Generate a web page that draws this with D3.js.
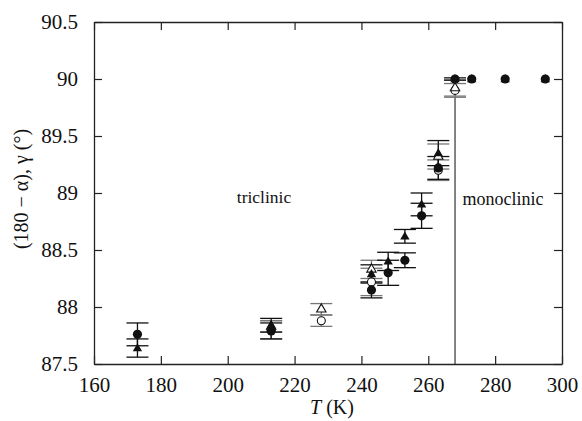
<!DOCTYPE html>
<html><head><meta charset="utf-8">
<script src="https://cdn.jsdelivr.net/npm/d3@7"></script>
</head><body style="margin:0"><svg id="c" width="582" height="421" font-family="Liberation Serif"></svg>
<script>
// Filled series (shared temperatures)
const tempsFilled = [173, 213, 243, 248, 253, 258, 263, 268, 273, 283, 295];
const filledCircle = [87.76, 87.79, 88.15, 88.30, 88.41, 88.80, 89.22, 90.00, 90.00, 90.00, 90.00];
const filledCircleErr = [0.10, 0.07, 0.07, 0.11, 0.065, 0.11, 0.10, 0.01, 0, 0, 0];
const filledTri = [87.64, 87.84, 88.29, 88.40, 88.62, 88.90, 89.35, 90.00, 90.00, 90.00, 90.00];
const filledTriErr = [0.08, 0.06, 0.08, 0.08, 0.06, 0.10, 0.11, 0, 0, 0, 0];
// Open series
const tempsOpen = [213, 228, 243, 263, 268];
const openCircle = [87.80, 87.88, 88.22, 89.20, 89.90];
const openCircleErr = [0.08, 0.05, 0.12, 0.09, 0.06];
const openTri = [87.83, 87.98, 88.33, 89.32, 89.92];
const openTriErr = [0.05, 0.05, 0.08, 0.11, 0.07];
const xTicks = [160, 180, 200, 220, 240, 260, 280, 300];
const yTicks = [87.5, 88, 88.5, 89, 89.5, 90, 90.5];
const transitionT = 268;

const svg = d3.select("#c");
const L = 94, R = 562, T = 22, B = 364;
const x = d3.scaleLinear().domain([160, 300]).range([L, R]);
const y = d3.scaleLinear().domain([87.5, 90.5]).range([B, T]);

const ax = (g, axis) => g.call(axis)
  .call(g => g.select(".domain").attr("stroke", "#222").attr("stroke-width", 1.3))
  .call(g => g.selectAll(".tick line").attr("stroke", "#222").attr("stroke-width", 1.2))
  .attr("font-family", null).attr("font-size", null);
svg.append("g").attr("transform", `translate(0,${B})`).call(g => ax(g, d3.axisBottom(x).tickValues(xTicks).tickSizeInner(-8).tickSizeOuter(0).tickPadding(13)))
  .selectAll("text").attr("font-size", 21).attr("fill", "#111");
svg.append("g").attr("transform", `translate(0,${T})`).call(g => ax(g, d3.axisTop(x).tickValues(xTicks).tickSizeInner(-8).tickSizeOuter(0).tickFormat("")));
svg.append("g").attr("transform", `translate(${L},0)`).call(g => ax(g, d3.axisLeft(y).tickValues(yTicks).tickSizeInner(-8).tickSizeOuter(0).tickPadding(16).tickFormat(d3.format(""))))
  .selectAll("text").attr("font-size", 21).attr("fill", "#111");
svg.append("g").attr("transform", `translate(${R},0)`).call(g => ax(g, d3.axisRight(y).tickValues(yTicks).tickSizeInner(-8).tickSizeOuter(0).tickFormat("")));

// transition line
svg.append("line").attr("x1", x(transitionT)).attr("x2", x(transitionT))
  .attr("y1", y(89.84)).attr("y2", y(87.5)).attr("stroke", "#333").attr("stroke-width", 1.2);

// error bars
function errbars(ts, vs, es, col) {
  const g = svg.append("g").attr("stroke", col).attr("stroke-width", 1.3);
  ts.forEach((t, i) => {
    if (!es[i]) return;
    const cx = x(t);
    g.append("line").attr("x1", cx).attr("x2", cx).attr("y1", y(vs[i] - es[i])).attr("y2", y(vs[i] + es[i]));
    [vs[i] - es[i], vs[i] + es[i]].forEach(v => g.append("line").attr("x1", cx - 11).attr("x2", cx + 11).attr("y1", y(v)).attr("y2", y(v)));
  });
}
errbars(tempsOpen, openCircle, openCircleErr, "#777");
errbars(tempsOpen, openTri, openTriErr, "#777");
errbars(tempsFilled, filledCircle, filledCircleErr, "#111");
errbars(tempsFilled, filledTri, filledTriErr, "#111");

const tri = d3.symbol().type(d3.symbolTriangle).size(38);
svg.append("g").selectAll("circle").data(tempsOpen).join("circle")
  .attr("cx", d => x(d)).attr("cy", (d, i) => y(openCircle[i])).attr("r", 4)
  .attr("fill", "#fff").attr("stroke", "#111").attr("stroke-width", 1.1);
svg.append("g").selectAll("path").data(tempsOpen).join("path")
  .attr("d", tri).attr("transform", (d, i) => `translate(${x(d)},${y(openTri[i])})`)
  .attr("fill", "#fff").attr("stroke", "#111").attr("stroke-width", 1.1);
svg.append("g").selectAll("path").data(tempsFilled).join("path")
  .attr("d", tri).attr("transform", (d, i) => `translate(${x(d)},${y(filledTri[i]) + 0.5})`)
  .attr("fill", "#111");
svg.append("g").selectAll("circle").data(tempsFilled).join("circle")
  .attr("cx", d => x(d)).attr("cy", (d, i) => y(filledCircle[i])).attr("r", 4.6)
  .attr("fill", "#111");

// labels
const lab = svg.append("g").attr("fill", "#111");
lab.append("text").attr("x", 264).attr("y", 203).attr("text-anchor", "middle").attr("font-size", 17.5).text("triclinic");
lab.append("text").attr("x", 503).attr("y", 205).attr("text-anchor", "middle").attr("font-size", 18).text("monoclinic");
const xl = lab.append("text").attr("x", 332).attr("y", 414).attr("text-anchor", "middle").attr("font-size", 20);
xl.append("tspan").attr("font-style", "italic").text("T");
xl.append("tspan").text(" (K)");
lab.append("text").attr("transform", "translate(28,189) rotate(-90)").attr("text-anchor", "middle").attr("font-size", 20)
  .text("(180 \u2212 \u03b1), \u03b3 (\u00b0)");
svg.selectAll("text").attr("font-family", "Liberation Serif").style("font-family", "'Liberation Serif'");
</script></body></html>
